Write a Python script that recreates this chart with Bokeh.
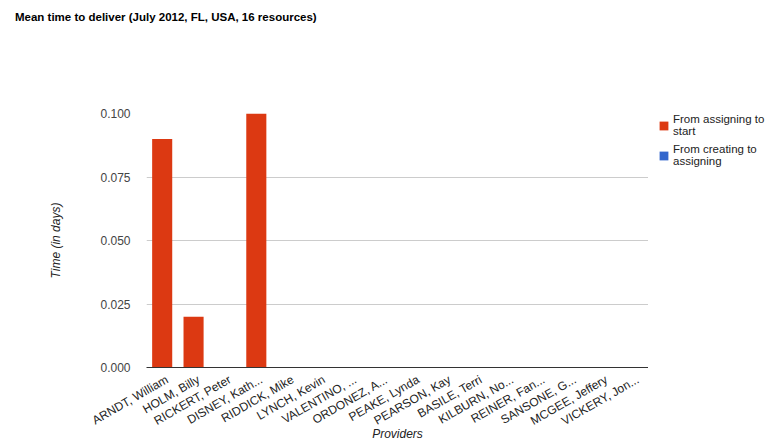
from bokeh.plotting import figure
from bokeh.layouts import column, row
from bokeh.models import (FixedTicker, NumeralTickFormatter, Legend, LegendItem,
                          ColumnDataSource, Div, Range1d, CustomJSTickFormatter)
from bokeh.embed import file_html
from bokeh.resources import INLINE
import math

providers = ["ARNDT, William", "HOLM, Billy", "RICKERT, Peter", "DISNEY, Kath...",
             "RIDDICK, Mike", "LYNCH, Kevin", "VALENTINO, ...", "ORDONEZ, A...",
             "PEAKE, Lynda", "PEARSON, Kay", "BASILE, Terri", "KILBURN, No...",
             "REINER, Fan...", "SANSONE, G...", "MCGEE, Jeffery", "VICKERY, Jon..."]
assign_to_start = [0.09, 0.02, 0.0, 0.1, 0.0, 0.0, 0.0, 0.0,
                   0.0, 0.0, 0.0, 0.0, 0.0, 0.0, 0.0, 0.0]
create_to_assign = [0.0] * 16
y_ticks = [0.0, 0.025, 0.05, 0.075, 0.1]

series = ["assign_start", "create_assign"]
labels = ["From assigning to\nstart", "From creating to\nassigning"]
colors = ["#dc3912", "#3366cc"]
title_text = "Mean time to deliver (July 2012, FL, USA, 16 resources)"

n = len(providers)
positions = list(range(n))
src = ColumnDataSource(dict(pos=positions, provider=providers,
                            assign_start=assign_to_start, create_assign=create_to_assign))

FONT = "Liberation Sans"
HEADER_H = 30
BODY_H = 444 - HEADER_H
LABEL_SHIFT = 0.16  # slanted category labels sit slightly right of the bar centre

header = Div(text=f'<div style="padding:9px 0 0 15px;font-family:\'{FONT}\';'
                  f'font-size:11.5px;font-weight:bold;color:#000;white-space:nowrap">'
                  f'{title_text}</div>',
             width=772, height=HEADER_H, margin=(0, 0, 0, 0))

# main chart
p = figure(width=648, height=BODY_H, x_range=Range1d(-0.5, n - 0.5),
           y_range=(0, 0.1), output_backend="svg", toolbar_location=None,
           min_border_left=146, min_border_right=0, min_border_top=112 - HEADER_H,
           min_border_bottom=74, margin=(0, 0, 0, 0))

p.vbar_stack(series, x="pos", width=0.64, color=colors, source=src, line_color=None)

p.xaxis.ticker = FixedTicker(ticks=[i + LABEL_SHIFT for i in positions])
p.xaxis.formatter = CustomJSTickFormatter(
    args=dict(names=providers, shift=LABEL_SHIFT),
    code="return names[Math.round(tick - shift)]")
p.xaxis.major_label_orientation = math.pi / 6
p.xaxis.major_tick_line_color = None
p.xaxis.minor_tick_line_color = None
p.xaxis.axis_line_color = "#333333"
p.xaxis.major_label_text_font = FONT
p.xaxis.major_label_text_font_size = "12px"
p.xaxis.major_label_text_color = "#222222"
p.xaxis.major_label_standoff = 5
p.xaxis.axis_label = "Providers"
p.xaxis.axis_label_text_font = FONT
p.xaxis.axis_label_text_font_size = "12px"
p.xaxis.axis_label_text_font_style = "italic"
p.xaxis.axis_label_text_color = "#222222"
p.xaxis.axis_label_standoff = -10

p.yaxis.ticker = FixedTicker(ticks=y_ticks)
p.yaxis.formatter = NumeralTickFormatter(format="0.000")
p.yaxis.axis_line_color = None
p.yaxis.major_tick_line_color = None
p.yaxis.minor_tick_line_color = None
p.yaxis.major_label_text_font = FONT
p.yaxis.major_label_text_font_size = "12px"
p.yaxis.major_label_text_color = "#444444"
p.yaxis.major_label_standoff = 10
p.yaxis.axis_label = "Time (in days)"
p.yaxis.axis_label_text_font = FONT
p.yaxis.axis_label_text_font_size = "12px"
p.yaxis.axis_label_text_font_style = "italic"
p.yaxis.axis_label_text_color = "#222222"
p.yaxis.axis_label_standoff = 34

p.xgrid.grid_line_color = None
p.ygrid.ticker = FixedTicker(ticks=y_ticks)
p.ygrid.grid_line_color = "#cccccc"
p.outline_line_color = None

# legend panel to the right; its renderers hold a single undrawable row and
# exist only to carry the series styles into the legend
lg = figure(width=772 - 648, height=BODY_H, x_range=Range1d(0, 1),
            y_range=Range1d(0, 1), output_backend="svg", toolbar_location=None,
            x_axis_location=None, y_axis_location=None,
            min_border_left=10, min_border_right=0, min_border_top=113 - HEADER_H,
            min_border_bottom=0, margin=(0, 0, 0, 0))
lg.grid.visible = False
lg.outline_line_color = None
swatch_src = ColumnDataSource(dict(pos=[0], assign_start=[float("nan")],
                                   create_assign=[float("nan")]))
lg_renderers = lg.vbar_stack(series, x="pos", width=0.64, color=colors,
                             source=swatch_src, line_color=None)
legend = Legend(items=[LegendItem(label=lab, renderers=[r]) for lab, r in zip(labels, lg_renderers)],
                location="top_left", background_fill_alpha=0, border_line_color=None,
                label_text_font=FONT, label_text_font_size="11.5px", label_text_color="#222222",
                label_text_line_height=1.25,
                glyph_width=11, glyph_height=11, label_standoff=4, spacing=6, padding=0,
                margin=0)
lg.add_layout(legend, "center")

layout = column(header, row(p, lg, spacing=0), spacing=0)

open("out.html", "w").write(file_html(layout, INLINE))
